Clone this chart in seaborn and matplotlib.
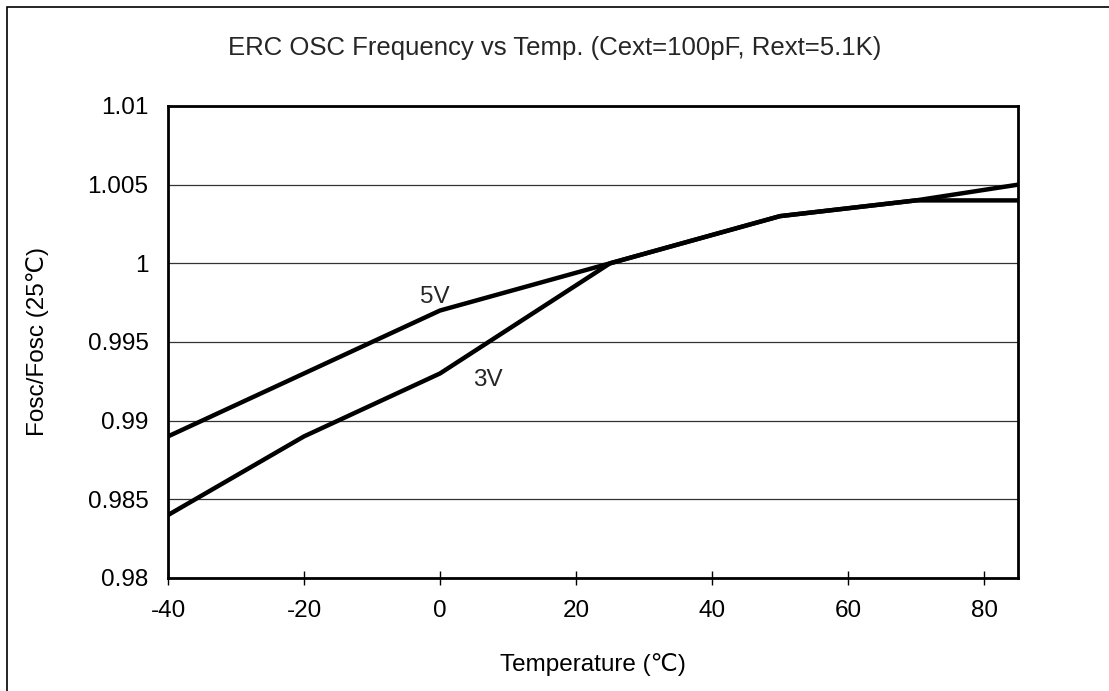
import matplotlib
matplotlib.use("Agg")
import matplotlib.pyplot as plt
import seaborn as sns
import pandas as pd
from matplotlib.patches import Rectangle

# data
temps = [-40, -20, 0, 25, 50, 70, 85]
ratio_5v = [0.989, 0.993, 0.997, 1.000, 1.003, 1.004, 1.004]
ratio_3v = [0.984, 0.989, 0.993, 1.000, 1.003, 1.004, 1.005]
x_ticks = [-40, -20, 0, 20, 40, 60, 80]
y_ticks = [0.98, 0.985, 0.99, 0.995, 1.0, 1.005, 1.01]
y_tick_labels = ["0.98", "0.985", "0.99", "0.995", "1", "1.005", "1.01"]

df = pd.DataFrame({
    "temp": temps * 2,
    "ratio": ratio_5v + ratio_3v,
    "supply": ["5V"] * len(temps) + ["3V"] * len(temps),
})

sns.set_theme(style="white")
plt.rcParams["font.family"] = ["Liberation Sans", "DejaVu Sans"]
fs = 17.5

fig = plt.figure(figsize=(11.09, 6.91), dpi=100)
ax = fig.add_axes([168 / 1109, 113 / 691, 850 / 1109, 472 / 691])

sns.lineplot(data=df, x="temp", y="ratio", units="supply", estimator=None,
             color="black", linewidth=3.2, ax=ax, legend=False)

ax.set_xlim(-40, 85)
ax.set_ylim(0.98, 1.01)
ax.set_xticks(x_ticks)
ax.set_xticklabels([str(t) for t in x_ticks], fontsize=fs)
ax.set_yticks(y_ticks)
ax.set_yticklabels(y_tick_labels, fontsize=fs)
ax.yaxis.grid(True, color="#333333", linewidth=0.9)
ax.xaxis.grid(False)
ax.tick_params(axis="x", direction="inout", length=10, width=1, color="black",
               bottom=True, pad=11, labelcolor="black")
ax.tick_params(axis="y", length=0, pad=14, labelcolor="black")
for s in ax.spines.values():
    s.set_color("black")
    s.set_linewidth(2)

ax.text(-0.7, 0.99784, "5V", fontsize=fs, ha="center", va="center")
ax.text(7.1, 0.99256, "3V", fontsize=fs, ha="center", va="center")

ax.set_xlabel("Temperature (℃)", fontsize=fs, labelpad=22, color="black")
ax.set_ylabel("Fosc/Fosc (25℃)", fontsize=fs, labelpad=28, color="black")
fig.text(555 / 1109, 1 - 48 / 691, "ERC OSC Frequency vs Temp. (Cext=100pF, Rext=5.1K)",
         fontsize=18.5, ha="center", va="center")

# outer frame (runs past the right and bottom edges)
fig.patches.append(Rectangle((7 / 1109, -0.1), 1.2, 1 - 7 / 691 + 0.1,
                             transform=fig.transFigure, fill=False,
                             edgecolor="black", linewidth=1.2))

fig.savefig("out.png", dpi=100, facecolor="white")
